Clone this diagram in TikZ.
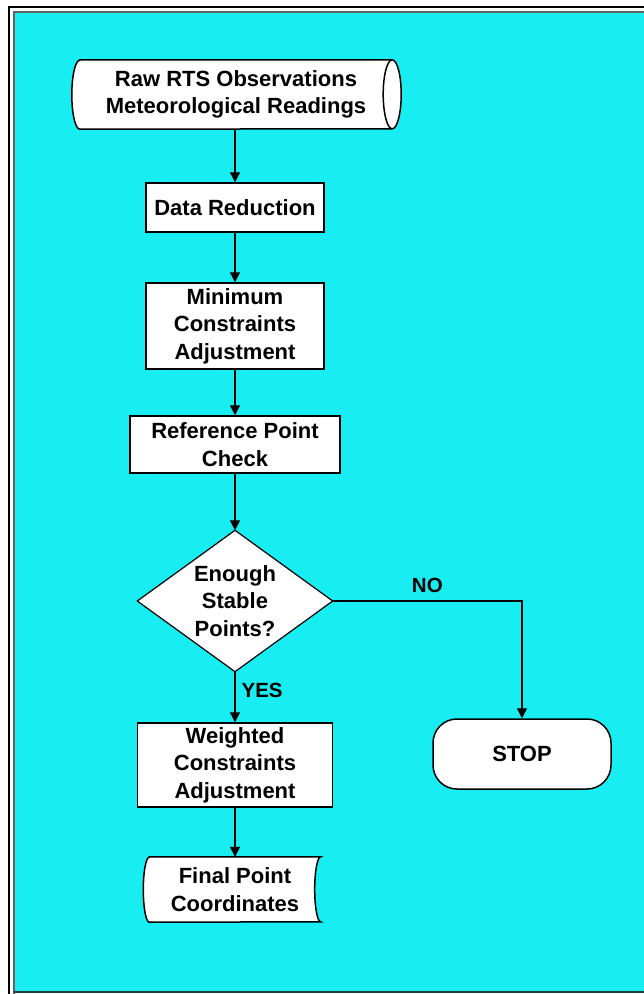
\documentclass[tikz,border=0pt]{standalone}
\usepackage{fontspec}
\setmainfont{Liberation Sans}
\usetikzlibrary{arrows.meta,backgrounds}
\definecolor{bgcyan}{RGB}{24,238,242}
\definecolor{framegray}{RGB}{100,100,100}
\definecolor{bottomdark}{RGB}{30,60,60}
\tikzset{
  base/.style={font=\bfseries\fontsize{22}{27.5}\selectfont, align=center, inner sep=0pt},
  procbox/.style={base, draw, fill=white, line width=1.5pt},
  hidden/.style={base},
  shapeline/.style={draw, fill=white, line width=1.5pt},
  flow/.style={line width=1.3pt, -{Triangle[length=10pt,width=10pt]}},
  lbl/.style={font=\bfseries\fontsize{20.5}{24}\selectfont, inner sep=0pt},
}
\begin{document}
\begin{tikzpicture}[x=1pt,y=-1pt]
\useasboundingbox (0,0) rectangle (644,994);
\begin{scope}[on background layer]
  \fill[white] (0,0) rectangle (644,994);
  \fill[bgcyan] (14,12) rectangle (644,992);
  \draw[framegray, line width=1.5pt] (14,994) -- (14,12) -- (644,12);
  \draw[black, line width=2.5pt] (9,994) -- (9,7) -- (644,7);
  \draw[bottomdark, line width=2pt] (14,992) -- (644,992);
\end{scope}

\node[hidden, minimum width=312pt, minimum height=69pt] (raw) at (236,94.5) {Raw RTS Observations\\Meteorological Readings};
\node[procbox, minimum width=178pt, minimum height=49pt] (dr) at (235,207.5) {Data Reduction};
\node[procbox, minimum width=178pt, minimum height=86pt] (mca) at (235,326) {Minimum\\Constraints\\Adjustment};
\node[procbox, minimum width=210pt, minimum height=57pt] (rpc) at (235,444.5) {Reference Point\\Check};
\node[hidden, minimum width=195pt, minimum height=141pt] (dia) at (235,601) {Enough\\Stable\\Points?};
\node[procbox, minimum width=195pt, minimum height=84pt] (wca) at (235,765) {Weighted\\Constraints\\Adjustment};
\node[procbox, rounded corners=24pt, minimum width=178pt, minimum height=70pt] (stop) at (522,754) {STOP};
\node[hidden, minimum width=171pt, minimum height=65pt] (fin) at (235,889.5) {Final Point\\Coordinates};

\begin{scope}[on background layer]
  \path[shapeline] (raw.north west) -- (raw.north east)
    arc[start angle=90, end angle=-90, x radius=9pt, y radius=34.5pt]
    -- (raw.south west)
    arc[start angle=270, end angle=90, x radius=8pt, y radius=34.5pt] -- cycle;
  \draw[line width=1.5pt] (raw.north east)
    arc[start angle=90, end angle=270, x radius=9pt, y radius=34.5pt];
  \path[shapeline, line width=1.2pt] (dia.north) -- (dia.east) -- (dia.south) -- (dia.west) -- cycle;
  \path[shapeline] (fin.north west) -- (fin.north east)
    arc[start angle=90, end angle=270, x radius=6pt, y radius=32.5pt]
    -- (fin.south west)
    arc[start angle=270, end angle=90, x radius=6pt, y radius=32.5pt] -- cycle;
\end{scope}

\draw[flow] (dr.north |- raw.south) -- (dr.north);
\draw[flow] (dr) -- (mca);
\draw[flow] (mca) -- (rpc);
\draw[flow] (rpc.south) -- (dia.north);
\draw[flow] (dia.south) -- node[lbl, pos=0.38, right=6pt] {YES} (wca.north);
\draw[flow] (dia.east) -| node[lbl, pos=0.25, above=8pt] {NO} (stop.north);
\draw[flow] (wca) -- (fin);
\end{tikzpicture}
\end{document}
